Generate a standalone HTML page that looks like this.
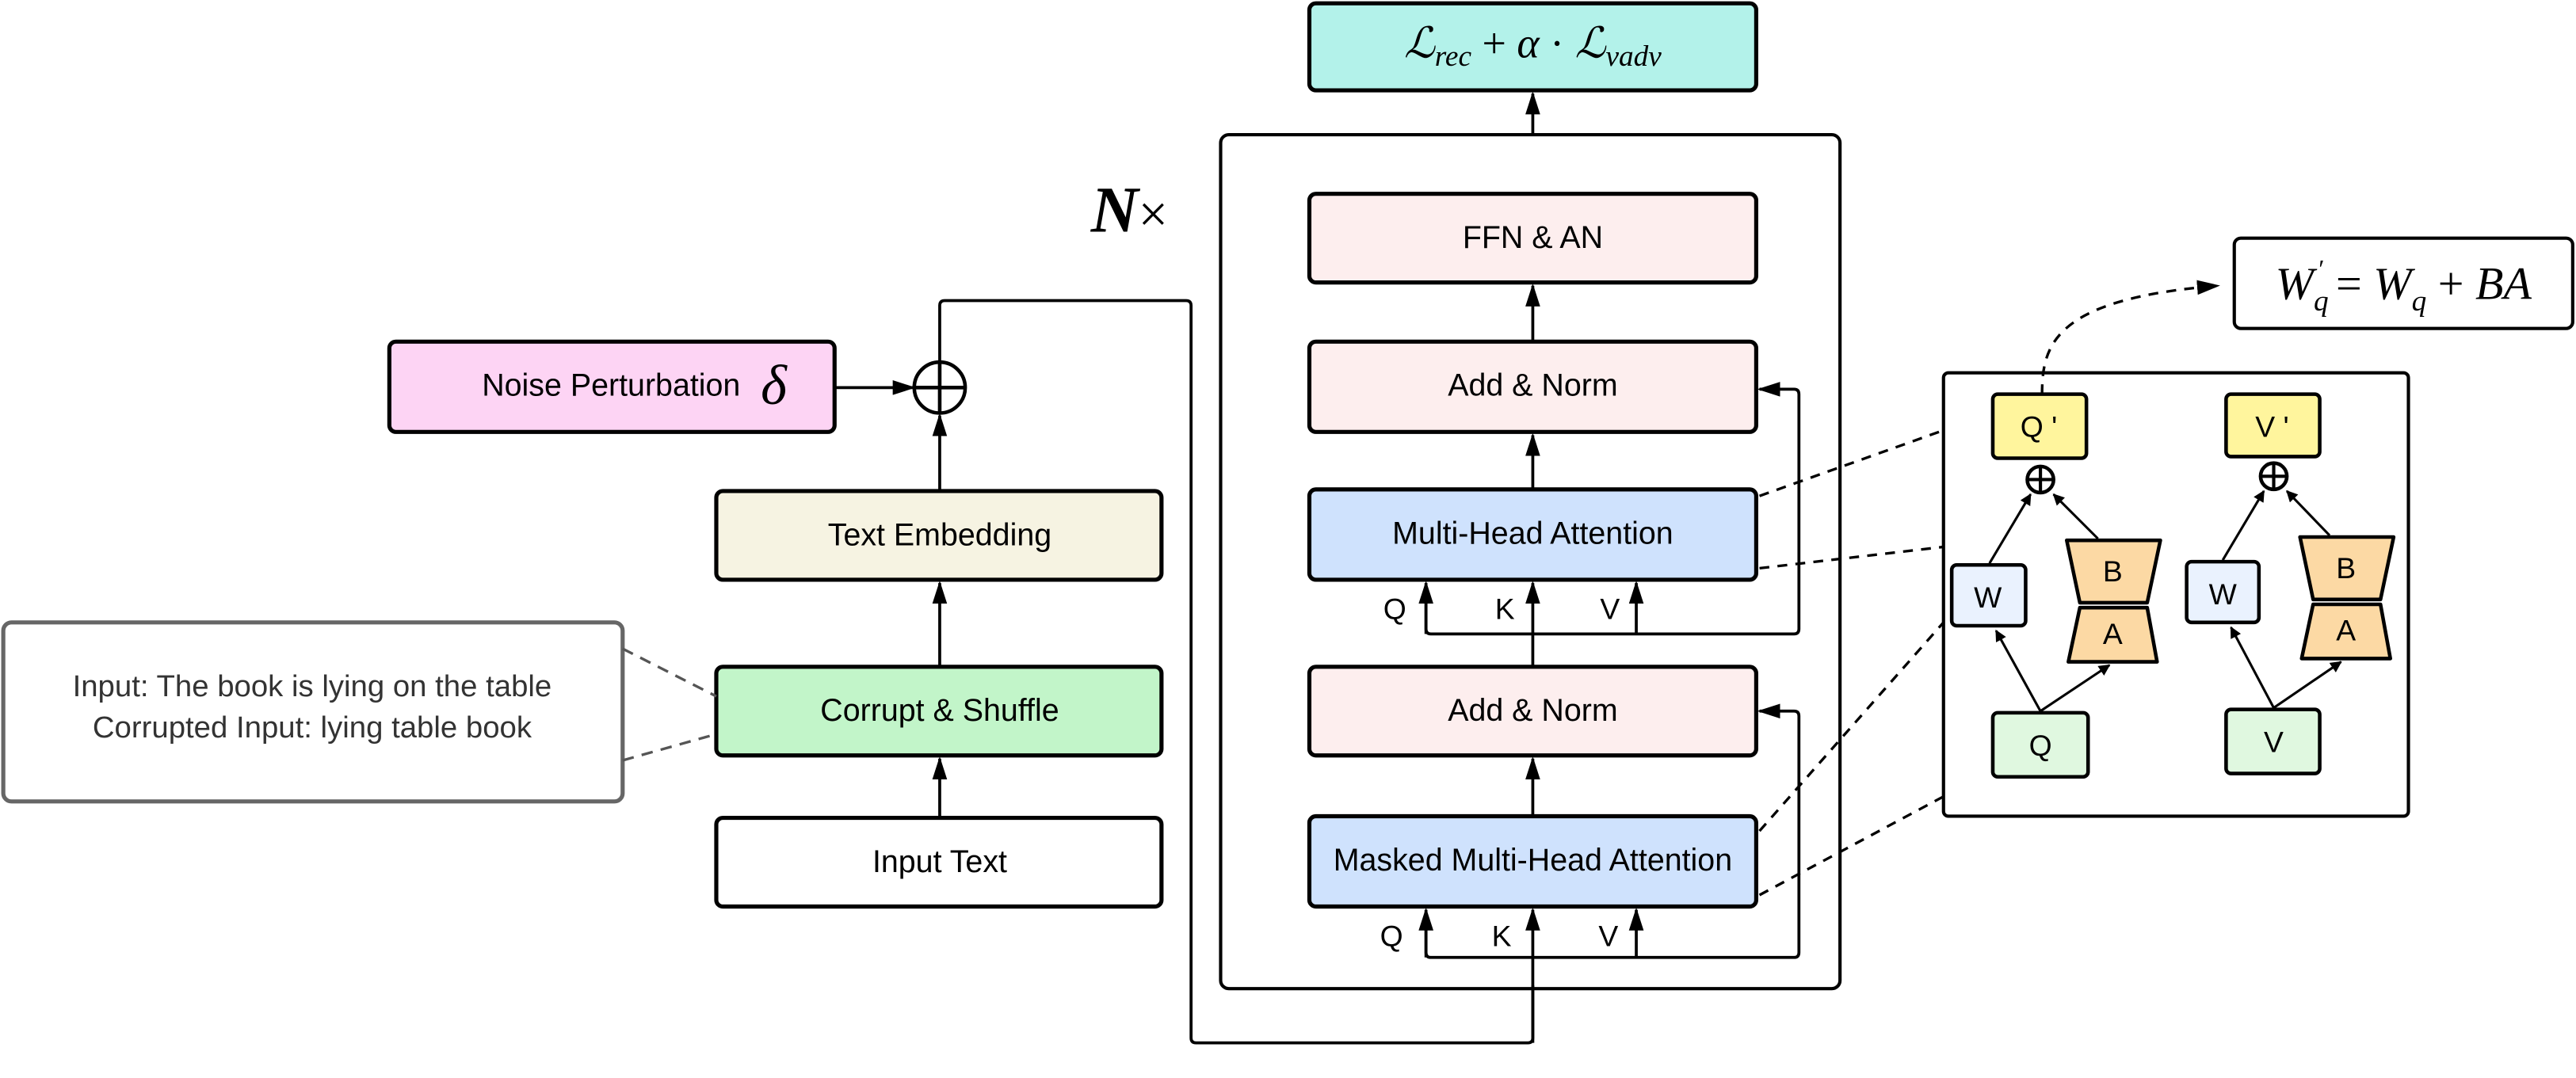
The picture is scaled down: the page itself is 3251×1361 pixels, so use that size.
<!DOCTYPE html>
<html><head><meta charset="utf-8"><style>
html,body{margin:0;padding:0;background:#fff;}
svg{display:block;}
text{font-family:"Liberation Sans",sans-serif;}
text.serif{font-family:"Liberation Serif",serif;}
</style></head><body>
<svg width="3251" height="1361" viewBox="0 0 1568 656.4" xmlns="http://www.w3.org/2000/svg">
<defs>
<marker id="ar" viewBox="0 0 10 10" refX="9" refY="5" markerWidth="7" markerHeight="7" markerUnits="userSpaceOnUse" orient="auto"><path d="M0,0 L10,5 L0,10 z" fill="#000"/></marker>
<marker id="ar2" viewBox="0 0 10 10" refX="9" refY="5" markerWidth="14" markerHeight="9" markerUnits="userSpaceOnUse" orient="auto" preserveAspectRatio="none"><path d="M0,0 L10,5 L0,10 z" fill="#000"/></marker>
</defs>
<g stroke="#000" stroke-width="2.5">
<rect x="797" y="2" width="272" height="53" rx="4" fill="#b3f2ea"/>
<rect x="743" y="82" width="377" height="520" rx="5" fill="none" stroke-width="2"/>
<rect x="797" y="118" width="272" height="54" rx="4" fill="#fdeeee"/>
<rect x="797" y="208" width="272" height="55" rx="4" fill="#fdeeee"/>
<rect x="797" y="298" width="272" height="55" rx="4" fill="#cfe2fd"/>
<rect x="797" y="406" width="272" height="54" rx="4" fill="#fdeeee"/>
<rect x="797" y="497" width="272" height="55" rx="4" fill="#cfe2fd"/>
<rect x="436" y="498" width="271" height="54" rx="4" fill="#fff"/>
<rect x="436" y="406" width="271" height="54" rx="4" fill="#c2f5c9"/>
<rect x="436" y="299" width="271" height="54" rx="4" fill="#f6f3e2"/>
<rect x="237" y="208" width="271" height="55" rx="4" fill="#fdd4f4"/>
<rect x="2" y="379" width="377" height="109" rx="5" fill="#fff" stroke="#666"/>
<rect x="1183" y="227" width="283" height="270" rx="3" fill="#fff" stroke-width="2"/>
<rect x="1360" y="145" width="206" height="55" rx="4" fill="#fff" stroke-width="2"/>
</g>
<g stroke="#000" stroke-width="1.8" fill="none">
<line x1="933" y1="82" x2="933" y2="57" marker-end="url(#ar2)"/>
<line x1="933" y1="208" x2="933" y2="174" marker-end="url(#ar2)"/>
<line x1="933" y1="298" x2="933" y2="265" marker-end="url(#ar2)"/>
<line x1="933" y1="406" x2="933" y2="355" marker-end="url(#ar2)"/>
<line x1="933" y1="497" x2="933" y2="462" marker-end="url(#ar2)"/>
<path d="M933,600 V632 q0,3 -3,3 H728 q-3,0 -3,-3 V186 q0,-3 -3,-3 H575 q-3,0 -3,3 V220"/>
<line x1="933" y1="635" x2="933" y2="554" marker-end="url(#ar2)"/>
<path d="M868,360 V383 q0,3 3,3 H1092 q3,0 3,-3 V240 q0,-3 -3,-3 H1071" marker-end="url(#ar2)"/>
<line x1="868" y1="386" x2="868" y2="355" marker-end="url(#ar2)"/>
<path d="M996,386 q0,-3 0,-5 V355" marker-end="url(#ar2)"/>
<path d="M868,565 V580 q0,3 3,3 H1092 q3,0 3,-3 V436 q0,-3 -3,-3 H1071" marker-end="url(#ar2)"/>
<line x1="868" y1="583" x2="868" y2="554" marker-end="url(#ar2)"/>
<line x1="996" y1="583" x2="996" y2="554" marker-end="url(#ar2)"/>
<line x1="572" y1="498" x2="572" y2="462" marker-end="url(#ar2)"/>
<line x1="572" y1="406" x2="572" y2="355" marker-end="url(#ar2)"/>
<line x1="572" y1="299" x2="572" y2="253" marker-end="url(#ar2)"/>
<line x1="508" y1="236" x2="556" y2="236" marker-end="url(#ar2)"/>
<circle cx="572" cy="236" r="15.5" stroke-width="2.2"/>
<line x1="556.5" y1="236" x2="587.5" y2="236" stroke-width="2.2"/>
<line x1="572" y1="220.5" x2="572" y2="251.5" stroke-width="2.2"/>
</g>
<g stroke="#555" stroke-width="1.6" fill="none" stroke-dasharray="7,5">
<line x1="379" y1="395" x2="436" y2="424"/>
<line x1="379" y1="463" x2="436" y2="447"/>
</g>
<g stroke="#000" stroke-width="1.6" fill="none" stroke-dasharray="6,5">
<line x1="1071" y1="302" x2="1183" y2="262"/>
<line x1="1071" y1="346" x2="1183" y2="333"/>
<line x1="1071" y1="506" x2="1183" y2="379"/>
<line x1="1071" y1="545" x2="1183" y2="485"/>
<path d="M1243,240 C1243,210 1250,182 1350,174" marker-end="url(#ar2)"/>
</g>
<g stroke="#000" stroke-width="2.2">
<rect x="1213" y="240" width="57" height="39" rx="3" fill="#fff59d"/>
<rect x="1355" y="240" width="57" height="38" rx="3" fill="#fff59d"/>
<rect x="1188" y="344" width="45" height="37" rx="3" fill="#eaf2fe"/>
<rect x="1331" y="342" width="44" height="37" rx="3" fill="#eaf2fe"/>
<path d="M1258,329 H1315 L1307,367 H1266 Z" fill="#fcd9a4" stroke-linejoin="round"/>
<path d="M1266,370 H1307 L1313,403 H1259 Z" fill="#fcd9a4" stroke-linejoin="round"/>
<path d="M1400,327 H1457 L1449,365 H1408 Z" fill="#fcd9a4" stroke-linejoin="round"/>
<path d="M1408,368 H1449 L1455,401 H1401 Z" fill="#fcd9a4" stroke-linejoin="round"/>
<rect x="1213" y="434" width="58" height="39" rx="3" fill="#e0f8e0"/>
<rect x="1355" y="432" width="57" height="39" rx="3" fill="#e0f8e0"/>
<circle cx="1242" cy="292" r="8" fill="#fff"/>
<circle cx="1384" cy="290" r="8" fill="#fff"/>
</g>
<g stroke="#000" stroke-width="1.5" fill="none">
<line x1="1234" y1="292" x2="1250" y2="292" stroke-width="2"/><line x1="1242" y1="284" x2="1242" y2="300" stroke-width="2"/>
<line x1="1376" y1="290" x2="1392" y2="290" stroke-width="2"/><line x1="1384" y1="282" x2="1384" y2="298" stroke-width="2"/>
<line x1="1242" y1="433" x2="1215" y2="384" marker-end="url(#ar)"/>
<line x1="1242" y1="433" x2="1284" y2="405" marker-end="url(#ar)"/>
<line x1="1211" y1="343" x2="1236" y2="301" marker-end="url(#ar)"/>
<line x1="1277" y1="328" x2="1250" y2="301" marker-end="url(#ar)"/>
<line x1="1384" y1="431" x2="1358" y2="382" marker-end="url(#ar)"/>
<line x1="1384" y1="431" x2="1425" y2="403" marker-end="url(#ar)"/>
<line x1="1353" y1="341" x2="1378" y2="299" marker-end="url(#ar)"/>
<line x1="1418" y1="326" x2="1392" y2="299" marker-end="url(#ar)"/>
</g>
<g font-size="19" text-anchor="middle" fill="#000">
<text x="933" y="151">FFN &amp; AN</text>
<text x="933" y="241">Add &amp; Norm</text>
<text x="933" y="331">Multi-Head Attention</text>
<text x="933" y="439">Add &amp; Norm</text>
<text x="933" y="530">Masked Multi-Head Attention</text>
<text x="572" y="531">Input Text</text>
<text x="572" y="439">Corrupt &amp; Shuffle</text>
<text x="572" y="332">Text Embedding</text>
<text x="372" y="241">Noise Perturbation</text>
<text class="serif" x="471" y="246" font-size="34" font-style="italic">δ</text>
<text x="849" y="377" font-size="18">Q</text><text x="916" y="377" font-size="18">K</text><text x="980" y="377" font-size="18">V</text>
<text x="847" y="576" font-size="18">Q</text><text x="914" y="576" font-size="18">K</text><text x="979" y="576" font-size="18">V</text>
<g fill="#333" font-size="18.5">
<text x="190" y="424">Input: The book is lying on the table</text>
<text x="190" y="449">Corrupted Input: lying table book</text>
</g>
<text x="1241" y="266" font-size="18">Q '</text>
<text x="1383" y="266" font-size="18">V '</text>
<text x="1210" y="370" font-size="18">W</text>
<text x="1353" y="368" font-size="18">W</text>
<text x="1286" y="354" font-size="18">B</text>
<text x="1286" y="392" font-size="18">A</text>
<text x="1428" y="352" font-size="18">B</text>
<text x="1428" y="390" font-size="18">A</text>
<text x="1242" y="460" font-size="18">Q</text>
<text x="1384" y="458" font-size="18">V</text>
</g>
<text class="serif" x="664" y="141" font-size="40"><tspan font-style="italic" font-weight="bold">N</tspan><tspan font-size="32">×</tspan></text>
<text class="serif" x="933" y="35" text-anchor="middle" font-size="26"><tspan font-style="italic">ℒ</tspan><tspan font-style="italic" font-size="18" dy="5">rec</tspan><tspan dy="-5"> + </tspan><tspan font-style="italic">α</tspan><tspan> · </tspan><tspan font-style="italic">ℒ</tspan><tspan font-style="italic" font-size="18" dy="5">vadv</tspan></text>
<text class="serif" x="1463" y="182" text-anchor="middle" font-size="28"><tspan font-style="italic">W</tspan><tspan font-style="italic" font-size="18" dy="7">q</tspan><tspan font-size="16" dy="-20" dx="-6">′</tspan><tspan dy="13"> = </tspan><tspan font-style="italic">W</tspan><tspan font-style="italic" font-size="18" dy="7">q</tspan><tspan dy="-7"> + </tspan><tspan font-style="italic">BA</tspan></text>
</svg>
</body></html>
